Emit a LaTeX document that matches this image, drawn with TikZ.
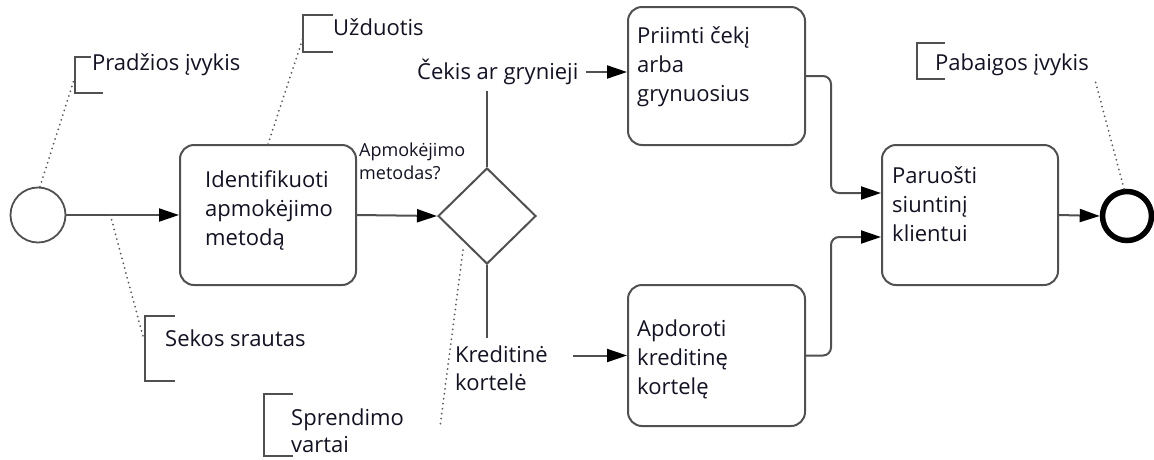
\documentclass[tikz,border=0pt]{standalone}
\usepackage{fontspec}
\setmainfont{Open Sans}
\usetikzlibrary{arrows.meta,shapes.geometric,calc}
\definecolor{lin}{RGB}{80,80,80}
\definecolor{txt}{RGB}{18,18,34}
\definecolor{dots}{RGB}{90,90,90}
\begin{document}
\begin{tikzpicture}[x=1pt,y=-1pt,
  line/.style={draw=lin, line width=2pt},
  flow/.style={line, -{Triangle[length=20pt,width=13pt,black]}},
  taskbox/.style={draw=lin, line width=2pt, rounded corners=14pt, minimum width=#1, inner sep=0pt},
  tasktext/.style={anchor=west, align=left, text=txt, inner sep=0pt, font=\fontsize{22}{29}\selectfont},
  note/.style={anchor=west, align=left, text=txt, fill=white, inner sep=1pt, font=\fontsize{22}{28}\selectfont},
  small/.style={anchor=west, align=left, text=txt, fill=white, inner sep=1pt, font=\fontsize{18}{23}\selectfont},
  assoc/.style={draw=dots, line width=2pt, line cap=round, dash pattern=on 0pt off 5pt},
  bracket/.style={draw=lin, line width=2pt}
]
\useasboundingbox (0,0) rectangle (1154,459);

% events and gateway
\node[circle, draw=lin, line width=1.8pt, minimum size=55pt, inner sep=0pt] (start) at (38,215) {};
\node[circle, draw=black, line width=5.5pt, minimum size=49pt, inner sep=0pt] (end) at (1127,216) {};
\node[diamond, draw=lin, line width=2pt, minimum width=98pt, minimum height=96pt, inner sep=0pt] (gw) at (487,216) {};

% tasks
\node[taskbox=176pt, minimum height=140pt] (idt) at (268,215) {};
\node[taskbox=177pt, minimum height=138pt] (pri) at (716.5,76) {};
\node[taskbox=177pt, minimum height=141pt] (apd) at (716.5,355.5) {};
\node[taskbox=176pt, minimum height=140pt] (par) at (970,215) {};

\node[tasktext] (idtT) at (205,210) {Identifikuoti\\apmokėjimo\\metodą};
\node[tasktext] (priT) at (637,67) {Priimti čekį\\arba\\grynuosius};
\node[tasktext] (apdT) at (637,359) {Apdoroti\\kreditinę\\kortelę};
\node[tasktext] (parT) at (892,204) {Paruošti\\siuntinį\\klientui};

% gateway labels
\node[small] (q) at (358,161) {Apmokėjimo\\metodas?};
\node[note, fill=none] (cek) at (416,72) {Čekis ar grynieji};
\node[note, fill=none] (kred) at (454,368) {Kreditinė\\kortelė};

% sequence flows
\draw[flow] (start.east) -- (idt.west);
\draw[flow] (idt.east) -- (gw.west);
\draw[line] (gw.north) -- ++(0,-76);
\draw[flow] ([xshift=6pt]cek.east) -- (cek.east -| pri.west);
\draw[line] (gw.south) -- ++(0,73);
\draw[flow] ([xshift=24pt]kred.east |- apd.west) -- (apd.west);
\draw[flow, rounded corners=8pt] (pri.east) -- ++(25,0) |- ([yshift=22pt]par.west);
\draw[flow, rounded corners=8pt] (apd.east) -- ++(25,0) |- ([yshift=-22pt]par.west);
\draw[flow] (par.east) -- (end.west);

% annotation brackets
\draw[bracket] (103,57) -- (75,57) -- (75,93) -- (103,93);
\draw[bracket] (333,15) -- (303,15) -- (303,52) -- (333,52);
\draw[bracket] (175,316) -- (145,316) -- (145,381) -- (175,381);
\draw[bracket] (293,394) -- (264,394) -- (264,456) -- (293,456);
\draw[bracket] (945,43) -- (917,43) -- (917,79) -- (945,79);

\coordinate (aStart) at (74,80);
\coordinate (aTask) at (303,38);
\coordinate (aFlow) at (144,340);
\coordinate (aGate) at (440,427);
\coordinate (aEnd) at (1095,80);
\coordinate (flowPt) at ($(start.east)!0.39!(idt.west)$);
\coordinate (gatePt) at ([xshift=-24pt,yshift=-34pt]gw.center);

% associations
\draw[assoc] ([xshift=2pt]start.north) -- (aStart);
\draw[assoc] (idt.north) -- (aTask);
\draw[assoc] (flowPt) -- (aFlow);
\draw[assoc] (gatePt) -- (aGate);
\draw[assoc] ([xshift=-3pt]end.north) -- (aEnd);

% annotation texts
\node[note] (nStart) at (91,65) {Pradžios įvykis};
\node[note] (nTask) at (332,27) {Užduotis};
\node[note] (nFlow) at (164,338) {Sekos srautas};
\node[note, inner sep=0pt, font=\fontsize{22}{27}\selectfont] (nGate) at (291,431) {Sprendimo\\vartai};
\node[note] (nEnd) at (934,65) {Pabaigos įvykis};
\end{tikzpicture}
\end{document}
